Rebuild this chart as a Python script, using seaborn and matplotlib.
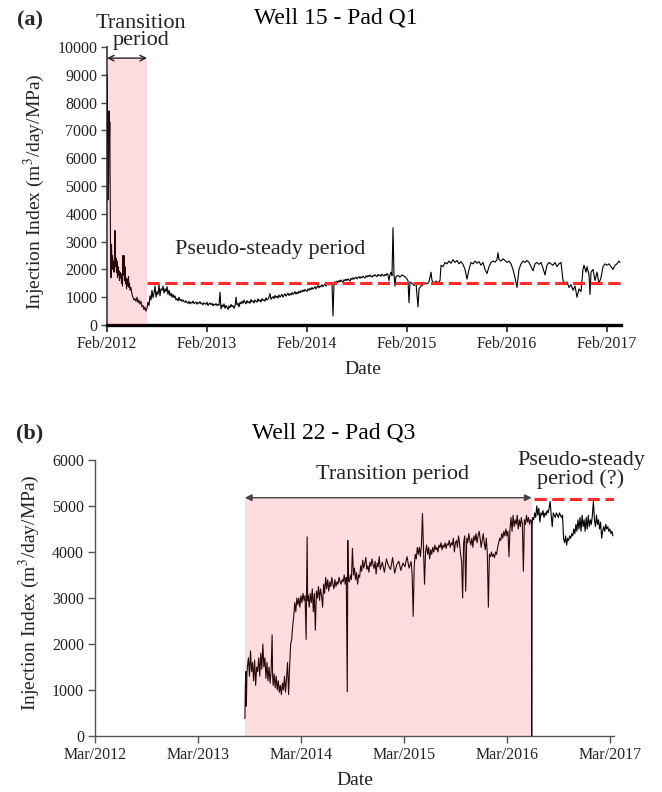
import numpy as np
import pandas as pd
import matplotlib
matplotlib.use("Agg")
import matplotlib.pyplot as plt
import matplotlib.dates as mdates
import seaborn as sns

# ---------------- data ----------------
# Well 15 - Pad Q1 : years since 2012-02-01, injection index
# early transition part (irregularly sampled)
w15_t_early = [0.002, 0.004, 0.008, 0.012, 0.016, 0.020, 0.024, 0.028, 0.032, 0.036, 0.040, 0.045, 0.050,
               0.055, 0.060, 0.065, 0.070, 0.075, 0.080, 0.085, 0.090, 0.095, 0.100, 0.105, 0.110, 0.115,
               0.120, 0.125, 0.130, 0.135, 0.140, 0.145, 0.150, 0.155, 0.160, 0.165, 0.170, 0.175, 0.180,
               0.185, 0.190, 0.195, 0.200, 0.205, 0.210, 0.215, 0.220, 0.225, 0.230, 0.240, 0.250, 0.260,
               0.270, 0.280, 0.290, 0.300, 0.310, 0.320, 0.330, 0.340, 0.350, 0.360, 0.370, 0.380, 0.390]
w15_v_early = [9000, 8200, 6000, 4500, 5200, 7700, 6500, 7300, 5000, 2300, 1700, 2900, 2200,
               2500, 2000, 2300, 1900, 2400, 3400, 2100, 2400, 1900, 2300, 1700, 2100, 1800,
               1950, 1600, 1900, 1700, 1850, 1500, 1700, 1400, 2500, 1800, 2500, 1600, 2100,
               1500, 1700, 1300, 1550, 1650, 1400, 1750, 1350, 1500, 1250, 1350, 1100, 1000,
               900, 950, 850, 1000, 800, 900, 750, 850, 650, 700, 550, 650, 500]
# middle part, sampled every 0.01 year from 0.40 to 2.88
w15_mid_start, w15_mid_step = 0.40, 0.01
w15_v_mid = [600, 820, 700, 1050, 900, 1250, 980, 1150, 1400, 1000,
             1200, 1100, 1450, 1050, 1300, 1250, 1400, 1150, 1300, 1200,
             1380, 1100, 1250, 1050, 1150, 1000, 1100,
             980, 1050, 900, 950, 870, 1000, 880, 920, 850, 900, 840,
             820, 870, 800, 780, 850, 760, 820, 790, 860, 770,
             800, 830, 750, 810, 780, 840, 760, 790, 720, 800,
             770, 740, 820, 700, 760, 790, 730, 780, 690, 750,
             720, 770, 700, 740, 710,
             1180, 580, 720, 650, 760, 600, 700, 640, 560, 690,
             620, 740, 660, 700, 600, 680, 1000, 720, 780, 650, 820,
             760, 850, 780, 900, 820, 760, 880, 800, 840, 780,
             920, 830, 870, 790, 900, 850, 820, 940, 860, 900,
             830, 950, 880, 910, 860, 980, 900, 940, 1000,
             1130, 920, 980, 1020, 950, 1060, 990, 1040, 970, 1080,
             1010, 1050, 1100, 1000, 1070, 1120, 1040, 1090, 1150, 1060,
             1120, 1080, 1170, 1100, 1140, 1200, 1110, 1180, 1130, 1220, 1160,
             1230, 1190, 1260, 1200, 1280, 1240, 1210, 1300, 1250, 1320,
             1270, 1350, 1290, 1330, 1380, 1300, 1360, 1420, 1340, 1400,
             1370, 1450, 1380, 1430, 1470, 1400, 1460, 1520, 1440, 1490, 1530, 1470,
             320,
             1500, 1560, 1480, 1580, 1530, 1600, 1550, 1620, 1570, 1540,
             1630, 1590, 1650, 1600, 1660, 1620, 1580, 1680, 1640, 1700,
             1650, 1690, 1720, 1660, 1710, 1740, 1680, 1730, 1700, 1760,
             1720, 1690, 1770, 1730, 1780, 1740, 1800, 1750, 1720, 1790,
             1760, 1810, 1770, 1740, 1820, 1780, 1800, 1750, 1830, 1790,
             1760, 1820, 1780, 1850, 1800, 1600, 1820, 1900, 1780,
             3500, 1800, 1400]
# late part (irregularly sampled)
w15_t_late = [2.89, 2.91, 2.93, 2.95, 2.97, 2.99, 3.01, 3.02, 3.03, 3.05, 3.07, 3.09, 3.11, 3.12, 3.14,
              3.16, 3.18, 3.20, 3.22, 3.24, 3.25, 3.27, 3.29, 3.31, 3.33, 3.34, 3.36, 3.38, 3.40, 3.42,
              3.44, 3.46, 3.48, 3.50, 3.52, 3.54, 3.56, 3.58, 3.60, 3.62, 3.64, 3.66, 3.68, 3.70, 3.72,
              3.74, 3.76, 3.78, 3.80, 3.82, 3.84, 3.86, 3.88, 3.90, 3.91, 3.92, 3.94, 3.96, 3.98, 4.00,
              4.02, 4.04, 4.06, 4.08, 4.10, 4.12, 4.14, 4.16, 4.18, 4.20, 4.22, 4.24, 4.26, 4.28, 4.30,
              4.32, 4.34, 4.36, 4.38, 4.40, 4.42, 4.44, 4.46, 4.48, 4.50, 4.52, 4.54, 4.56, 4.58, 4.60,
              4.62, 4.64, 4.66, 4.68, 4.70, 4.72, 4.74, 4.76, 4.77, 4.79, 4.80, 4.82, 4.83, 4.84, 4.86,
              4.88, 4.90, 4.92, 4.94, 4.96, 4.98, 5.00, 5.02, 5.04, 5.06, 5.08, 5.10, 5.12, 5.13]
w15_v_late = [1750, 1780, 1720, 1800, 1760, 1700, 1600, 800, 1550, 1500, 1420, 1500, 650, 1300, 1400,
              1450, 1520, 1480, 1550, 1900, 1600, 1500, 1580, 1520, 1600, 2150, 2100, 2250, 2200, 2300,
              2220, 2350, 2250, 2320, 2200, 2280, 2180, 2000, 1650, 2000, 2250, 2200, 2300, 2220, 2280,
              2150, 2250, 2000, 1850, 2100, 2250, 2300, 2260, 2350, 2600, 2350, 2300, 2380, 2320, 2250,
              2300, 2200, 2000, 1700, 1350, 2000, 2200, 2300, 2250, 2320, 2250, 2100, 1950, 2200, 2250,
              2180, 2250, 2050, 1800, 2150, 2250, 2200, 2150, 2250, 2100, 2200, 2250, 1600, 1500, 1550,
              1350, 1450, 1250, 1400, 1000, 1300, 1200, 2000, 2150, 1900, 2100, 1800, 1100, 1900, 2000,
              1600, 1900, 1500, 1700, 2100, 2200, 2150, 2200, 2100, 2000, 2150, 2200, 2300, 2250]

# Well 22 - Pad Q3 : years since 2012-03-01, injection index
w22_t = [1.456, 1.460, 1.465, 1.470, 1.475, 1.480, 1.490, 1.500, 1.510, 1.520, 1.530, 1.540, 1.550, 1.560,
         1.570, 1.580, 1.590, 1.600, 1.610, 1.620, 1.630, 1.640, 1.650, 1.660, 1.670, 1.680, 1.690, 1.700,
         1.710, 1.720, 1.725, 1.730, 1.740, 1.750, 1.760, 1.770, 1.780, 1.790, 1.800, 1.810, 1.820, 1.830,
         1.840, 1.850, 1.860, 1.870, 1.880, 1.890, 1.900, 1.910, 1.920, 1.930, 1.940, 1.950, 1.960, 1.970,
         1.980, 1.990, 2.000, 2.010, 2.020, 2.030, 2.040, 2.050, 2.060, 2.065, 2.070, 2.080, 2.090, 2.100,
         2.110, 2.120, 2.130, 2.140, 2.150, 2.160, 2.170, 2.180, 2.190, 2.200, 2.210, 2.220, 2.230, 2.240,
         2.250, 2.260, 2.270, 2.280, 2.290, 2.300, 2.310, 2.320, 2.330, 2.340, 2.350, 2.360, 2.370, 2.380,
         2.390, 2.400, 2.410, 2.420, 2.430, 2.440, 2.450, 2.455, 2.460, 2.470, 2.480, 2.490, 2.500, 2.510,
         2.520, 2.530, 2.540, 2.550, 2.560, 2.570, 2.580, 2.590, 2.600, 2.610, 2.620, 2.630, 2.640, 2.650,
         2.660, 2.670, 2.680, 2.690, 2.700, 2.710, 2.720, 2.730, 2.740, 2.750, 2.760, 2.770, 2.790, 2.810,
         2.830, 2.850, 2.870, 2.890, 2.910, 2.930, 2.950, 2.970, 2.990, 3.010, 3.030, 3.050, 3.070, 3.080,
         3.090, 3.100, 3.110, 3.120, 3.130, 3.140, 3.150, 3.160, 3.170, 3.180, 3.190, 3.200, 3.210, 3.220,
         3.230, 3.240, 3.250, 3.260, 3.270, 3.280, 3.290, 3.300, 3.310, 3.320, 3.330, 3.340, 3.350, 3.360,
         3.370, 3.380, 3.390, 3.400, 3.410, 3.420, 3.430, 3.440, 3.450, 3.460, 3.470, 3.480, 3.490, 3.500,
         3.510, 3.520, 3.530, 3.540, 3.550, 3.560, 3.570, 3.580, 3.590, 3.600, 3.610, 3.620, 3.630, 3.640,
         3.650, 3.660, 3.670, 3.680, 3.690, 3.700, 3.710, 3.720, 3.730, 3.740, 3.750, 3.760, 3.770, 3.780,
         3.790, 3.800, 3.810, 3.820, 3.830, 3.840, 3.850, 3.860, 3.870, 3.880, 3.890, 3.900, 3.910, 3.920,
         3.930, 3.940, 3.950, 3.960, 3.970, 3.980, 3.990, 4.000, 4.010, 4.020, 4.030, 4.040, 4.050, 4.060,
         4.070, 4.080, 4.090, 4.100, 4.110, 4.120, 4.130, 4.140, 4.150, 4.160, 4.170, 4.180, 4.190, 4.200,
         4.210, 4.220, 4.230, 4.240, 4.241, 4.243, 4.250, 4.260, 4.270, 4.280, 4.290, 4.300, 4.310, 4.320,
         4.330, 4.340, 4.350, 4.360, 4.370, 4.380, 4.390, 4.400, 4.410, 4.420, 4.430, 4.440, 4.450, 4.460,
         4.470, 4.480, 4.490, 4.500, 4.510, 4.520, 4.530, 4.540, 4.550, 4.560, 4.570, 4.580, 4.590, 4.600,
         4.610, 4.620, 4.630, 4.640, 4.650, 4.660, 4.670, 4.680, 4.690, 4.700, 4.710, 4.720, 4.730, 4.740,
         4.750, 4.760, 4.770, 4.780, 4.790, 4.800, 4.810, 4.820, 4.830, 4.840, 4.850, 4.860, 4.870, 4.880,
         4.890, 4.900, 4.910, 4.920, 4.930, 4.940, 4.950, 4.960, 4.970, 4.980, 4.990, 5.000, 5.010, 5.020, 5.030]
w22_v = [380, 1100, 1400, 650, 1350, 1500, 1700, 1300, 1850, 1400, 1600, 1200, 1650, 1100,
         1500, 1400, 1700, 1300, 1800, 1450, 2000, 1500, 1700, 1250, 1600, 1200, 1500, 1150,
         1400, 2200, 1300, 1100, 1350, 1050, 1300, 1000, 1200, 950, 1100, 900, 1150, 1000,
         1300, 950, 1250, 1600, 900, 1500, 2000, 2100, 2400, 2600, 2900, 2700, 3000, 2850,
         3000, 2800, 3050, 2900, 3100, 2950, 3050, 2100, 4330, 2950, 3050, 2800, 3100, 2900,
         3200, 2700, 3100, 2300, 3150, 3000, 3250, 2950, 3200, 3050, 2800, 3300, 3100, 3450,
         3200, 3400, 3150, 3350, 3250, 3450, 3300, 3200, 3400, 3250, 3350, 3300, 3450, 3350,
         3300, 3400, 3350, 3500, 3300, 3450, 960, 4250, 3400, 3350, 3500, 3400, 4080, 3500,
         3650, 3400, 3550, 3300, 3500, 3450, 3700, 3580, 3820, 3650, 3750, 3880, 3620, 3700,
         3560, 3780, 3690, 3850, 3720, 3640, 3800, 3520, 3760, 3680, 3900, 3620, 3780, 3560,
         3850, 3700, 3620, 3880, 3540, 3720, 3800, 3600, 3760, 3680, 3900, 3650, 3790, 3500,
         2600, 3700, 3950, 3850, 4100, 3950, 4100, 3900, 4150, 4840, 4050, 3300, 4000, 4150,
         3950, 4100, 3850, 4050, 3950, 4100, 4000, 4150, 4050, 4100, 4000, 4150, 4100, 4200,
         4050, 4150, 4100, 4200, 4080, 4180, 4150, 4250, 4100, 4200, 4150, 4300, 4000, 4200,
         4250, 4100, 4350, 4200, 3950, 3800, 3000, 4200, 4350, 3150, 4300, 4200, 4400, 4250,
         4150, 4300, 4100, 4350, 4250, 4400, 4200, 4350, 4450, 4300, 4100, 4250, 4400, 4200,
         4050, 4300, 3950, 2800, 3950, 3900, 4000, 3900, 3950, 3880, 4000, 3950, 4100, 4200,
         4300, 4250, 4400, 4300, 4450, 4350, 4500, 4350, 4450, 3900, 4500, 4750, 4450, 4800,
         4550, 4700, 4600, 4800, 4500, 4700, 4550, 4750, 4600, 3580, 4700, 4600, 4800, 4650,
         4750, 4600, 4700, 4650, 0, 4600, 4750, 4700, 4850, 4750, 5000, 4800, 4950, 4650,
         4850, 4800, 4900, 4750, 4850, 4800, 4900, 4850, 4950, 5100, 4800, 4550, 4850, 4800,
         4750, 4850, 4800, 4750, 4850, 4800, 4750, 4800, 4300, 4200, 4350, 4150, 4300, 4250,
         4350, 4300, 4400, 4350, 4500, 4400, 4600, 4450, 4700, 4500, 4750, 4450, 4800, 4550,
         4700, 4450, 4750, 4500, 4800, 4550, 4700, 4600, 4800, 5100, 4700, 4550, 4800, 4600,
         4700, 4500, 4650, 4300, 4450, 4550, 4450, 4600, 4500, 4550, 4450, 4500, 4400, 4450, 4350]

top_yticks = list(range(0, 10001, 1000))
bot_yticks = list(range(0, 6001, 1000))
top_period_end = 0.40       # years after start (transition end), Well 15
top_steady_level = 1500
bot_trans = (1.456, 4.240)  # Well 22 transition period (years after start)
bot_steady_level = 5150

# ---------------- helpers ----------------
def to_dates(base, t):
    return pd.Timestamp(base) + pd.to_timedelta(np.asarray(t) * 365.25, unit="D")

w15_t_mid = [round(w15_mid_start + i * w15_mid_step, 3) for i in range(len(w15_v_mid))]
w15_t = w15_t_early + w15_t_mid + w15_t_late
w15_v = w15_v_early + w15_v_mid + w15_v_late

sns.set_style("ticks")
plt.rcParams["font.family"] = ["Liberation Serif", "DejaVu Serif"]
plt.rcParams["mathtext.fontset"] = "stix"

W, H = 662, 792
fig = plt.figure(figsize=(W / 100, H / 100), dpi=100)

def axes_px(l, t, r, b):
    return fig.add_axes([l / W, 1 - b / H, (r - l) / W, (b - t) / H])

ax1 = axes_px(107, 47, 621, 325)
ax2 = axes_px(95, 460, 614, 736)

shade = dict(color=(0.95, 0.2, 0.25), alpha=0.17, lw=0, zorder=3)
red = "#ff2a2a"
txt = "#222222"

# ---------------- panel (a) ----------------
base1 = "2012-02-01"
df1 = pd.DataFrame({"date": to_dates(base1, w15_t), "ii": w15_v})
sns.lineplot(data=df1, x="date", y="ii", ax=ax1, color="black", lw=0.8, estimator=None, zorder=2.6)
d_start1 = to_dates(base1, [0.0])[0]
d_end1 = to_dates(base1, [top_period_end])[0]
ax1.fill_between([d_start1, d_end1], 0, 9600, **shade)
ax1.plot([d_end1, df1["date"].iloc[-1]], [top_steady_level] * 2, color=red, lw=2.2,
         dashes=(4, 1.8), zorder=4)
ax1.annotate("", xy=(d_start1, 9600), xytext=(d_end1, 9600),
             arrowprops=dict(arrowstyle="<->", color="#222222", lw=1.0, shrinkA=0, shrinkB=0),
             annotation_clip=False)
ax1.text(to_dates(base1, [1.63])[0], 2700, "Pseudo-steady period", ha="center", va="center",
         fontsize=16, color=txt)

ax1.set_ylim(0, 10000)
ax1.set_xlim(d_start1, to_dates(base1, [5.14])[0])
ax1.set_yticks(top_yticks)
ax1.xaxis.set_major_locator(mdates.MonthLocator(bymonth=2, bymonthday=1))
ax1.xaxis.set_major_formatter(mdates.DateFormatter("%b/%Y"))
for s in ["top", "right"]:
    ax1.spines[s].set_visible(False)
ax1.spines["bottom"].set_linewidth(2.4)
ax1.spines["bottom"].set_color("black")
ax1.spines["left"].set_linewidth(1.3)
ax1.spines["left"].set_color("#444444")
ax1.tick_params(axis="x", length=5, width=1.3, color="#333333", labelsize=11.5, pad=3,
                labelcolor=txt)
ax1.tick_params(axis="y", length=4, width=1.0, color="#444444", labelsize=11.5, pad=3,
                labelcolor=txt)
ax1.set_xlabel("Date", fontsize=14, color=txt)
ax1.set_ylabel("Injection Index (m$^3$/day/MPa)", fontsize=14, color=txt)
ax1.xaxis.set_label_coords(0.498, -0.13)
ax1.yaxis.set_label_coords(-0.117, 0.48)

# ---------------- panel (b) ----------------
base2 = "2012-03-01"
df2 = pd.DataFrame({"date": to_dates(base2, w22_t), "ii": w22_v})
sns.lineplot(data=df2, x="date", y="ii", ax=ax2, color="black", lw=0.8, estimator=None, zorder=2.6)
d_a, d_b = to_dates(base2, list(bot_trans))
ax2.fill_between([d_a, d_b], 0, 5180, **shade)
ax2.plot([to_dates(base2, [4.26])[0], to_dates(base2, [5.06])[0]], [bot_steady_level] * 2,
         color=red, lw=2.2, dashes=(4, 1.8), zorder=4)
ax2.annotate("", xy=(d_a, 5180), xytext=(d_b, 5180),
             arrowprops=dict(arrowstyle="<|-|>", color="#444444", lw=1.0, shrinkA=0, shrinkB=0,
                             mutation_scale=10),
             annotation_clip=False)
ax2.set_ylim(0, 6000)
ax2.set_xlim(pd.Timestamp(base2), to_dates(base2, [5.04])[0])
ax2.set_yticks(bot_yticks)
ax2.xaxis.set_major_locator(mdates.MonthLocator(bymonth=3, bymonthday=1))
ax2.xaxis.set_major_formatter(mdates.DateFormatter("%b/%Y"))
for s in ["top", "right"]:
    ax2.spines[s].set_visible(False)
for s in ["bottom", "left"]:
    ax2.spines[s].set_linewidth(1.0)
    ax2.spines[s].set_color("#555555")
ax2.tick_params(axis="both", length=5, width=1.0, color="#555555", labelsize=11.5, pad=3,
                labelcolor=txt)
ax2.set_xlabel("Date", fontsize=14, color=txt)
ax2.set_ylabel("Injection Index (m$^3$/day/MPa)", fontsize=14, color=txt)
ax2.xaxis.set_label_coords(0.5, -0.13)
ax2.yaxis.set_label_coords(-0.102, 0.518)

# ---------------- figure texts ----------------
def ftext(x, y, s, **kw):
    fig.text(x / W, 1 - y / H, s, **kw)

ftext(336, 18, "Well 15 - Pad Q1", ha="center", va="center", fontsize=17, color="black")
ftext(30, 20, "(a)", ha="center", va="center", fontsize=16, fontweight="bold")
ftext(141, 32, "Transition\nperiod", ha="center", va="center", fontsize=16, linespacing=0.92,
      color=txt)
ftext(334, 433, "Well 22 - Pad Q3", ha="center", va="center", fontsize=17, color="black")
ftext(30, 433, "(b)", ha="center", va="center", fontsize=16, fontweight="bold")
ftext(393, 474, "Transition period", ha="center", va="center", fontsize=16, color=txt)
ftext(581, 470, "Pseudo-steady\nperiod (?)", ha="center", va="center", fontsize=16,
      linespacing=0.92, color=txt)

fig.savefig("out.png", dpi=100)
